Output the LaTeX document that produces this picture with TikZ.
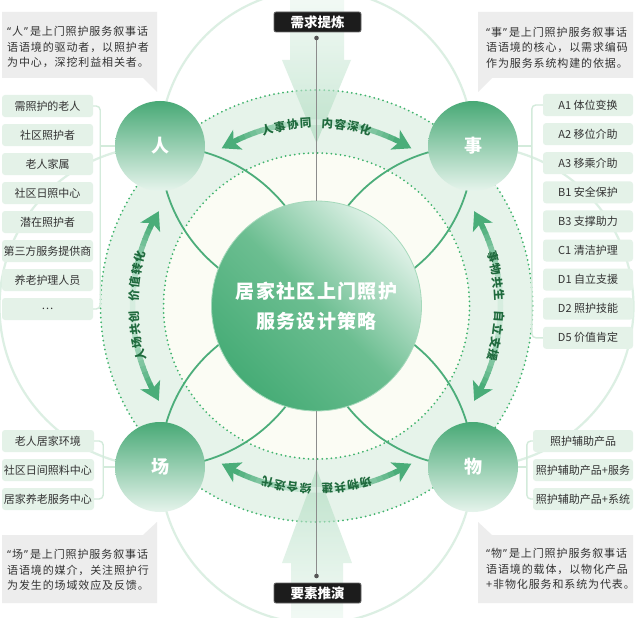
\documentclass[tikz,border=0pt]{standalone}
\usepackage{fontspec}
\setmainfont{Noto Sans CJK SC}
\newfontfamily\cjkls[LetterSpace=8]{Noto Sans CJK SC}
\newfontfamily\cjkwide[LetterSpace=7]{Noto Sans CJK SC}
\newfontfamily\qfont{Noto Sans}
\newcommand\myquote[1]{{\qfont “}\kern1pt #1\kern1pt{\qfont ”}\kern2pt}
\usetikzlibrary{arrows.meta}
\definecolor{annulus}{HTML}{E6F3EA}
\definecolor{cream}{HTML}{FBFCF4}
\definecolor{dotc}{HTML}{3FB36C}
\definecolor{faint}{HTML}{DCEFE3}
\definecolor{darkl}{HTML}{4CAD7A}
\definecolor{satTop}{HTML}{48A976}
\definecolor{satBot}{HTML}{E6F4EC}
\definecolor{ctrDark}{HTML}{46AC76}
\definecolor{ctrMid}{HTML}{6CBE91}
\definecolor{ctrLight}{HTML}{E0F2E8}
\definecolor{ctrEdge}{HTML}{A5D9BB}
\definecolor{itemfill}{HTML}{E4F2E8}
\definecolor{linkc}{HTML}{D3EBDB}
\definecolor{callfill}{HTML}{EDEDED}
\definecolor{txt}{HTML}{333333}
\definecolor{arrDark}{HTML}{4AAD79}
\definecolor{arrLight}{HTML}{D6EDDF}
\definecolor{arctxt}{HTML}{1F6A3D}
\definecolor{bigArrTop}{HTML}{E9F6EE}
\definecolor{bigArrBot}{HTML}{A6D8B9}
\definecolor{tagfill}{HTML}{1C1C1C}
\definecolor{tagdraw}{HTML}{666666}
\definecolor{vgray}{HTML}{8C8C8C}
\definecolor{dotcol}{HTML}{555555}
\begin{document}
\begin{tikzpicture}[x=1pt,y=-1pt,
  listitem/.style={fill=itemfill, rounded corners=3pt, minimum height=22pt, inner sep=0pt, text=txt, font=\fontsize{11}{12}\selectfont},
  sat/.style={circle, minimum size=90pt, inner sep=0pt, top color=satTop, bottom color=satBot, text=white, font=\fontsize{18}{18}\selectfont\bfseries},
  link/.style={linkc, line width=1.8pt},
  brk/.style={linkc, line width=1.4pt, rounded corners=4pt},
  calloutbg/.style={fill=callfill},
  calltext/.style={anchor=west, align=left, text=txt, inner sep=0pt, font=\cjkls\fontsize{11}{15.5}\selectfont},
  tagbox/.style={fill=tagfill, draw=tagdraw, line width=0.8pt, rounded corners=2pt, minimum width=87pt, minimum height=20pt, inner sep=0pt, text=white, font=\fontsize{13.5}{14}\selectfont\bfseries},
  faintc/.style={faint, line width=2.2pt},
  darkc/.style={darkl, line width=1.8pt},
  dotring/.style={dotc, line width=2pt, line cap=round, dash pattern=on 0pt off 4.6pt},
  vline/.style={vgray, line width=1.1pt},
  arct/.style={text=arctxt, inner sep=0pt, font=\fontsize{11.5}{11.5}\selectfont\bfseries},
  bigarrow/.style={top color=bigArrTop, bottom color=bigArrBot, fill opacity=0.6, draw=none}
]
\useasboundingbox (0,0) rectangle (635,618);
\fill[white] (0,0) rectangle (635,618);

% faint big circles
\draw[faintc] (316.5,146) circle[radius=156.5];
\draw[faintc] (316.5,467) circle[radius=156.5];
\draw[faintc] (160,306.5) circle[radius=160.5];
\draw[faintc] (473,306.5) circle[radius=160.5];

% rings
\fill[annulus] (316.5,306) circle[radius=216];
\fill[cream] (316.5,306) circle[radius=153];
\begin{scope}
  \clip (316.5,306) circle[radius=216];
  \draw[darkc] (316.5,146) circle[radius=156.5];
  \draw[darkc] (316.5,467) circle[radius=156.5];
  \draw[darkc] (160,306.5) circle[radius=160.5];
  \draw[darkc] (473,306.5) circle[radius=160.5];
\end{scope}
\draw[dotring] (316.5,306) circle[radius=216];
\draw[dotring] (316.5,306) circle[radius=153];

% big vertical arrows
\shade[bigarrow] (290,0) -- (344,0) -- (344,60) -- (351,60) -- (316.5,143) -- (282,60) -- (290,60) -- cycle;
\shade[bigarrow, top color=bigArrBot, bottom color=bigArrTop] (291,618) -- (343,618) -- (343,563) -- (352,563) -- (316.5,469) -- (282,563) -- (291,563) -- cycle;

% curved double arrows and texts
\begin{scope}[shift={(316.5,306)}]
  \foreach \cA in {90,0,270,180}{
    \foreach \sA in {1,-1}{
      \foreach \i in {0,...,13}{
        \pgfmathsetmacro\aA{\cA+\sA*\i*26.8/14}
        \pgfmathsetmacro\aB{\cA+\sA*(\i+1.15)*26.8/14}
        \pgfmathtruncatemacro\pp{100*(\i/13)^1.3}
        \draw[line width=5.5pt, arrDark!\pp!arrLight] (\aA:184pt) arc[start angle=\aA, end angle=\aB, radius=184pt];
      }
      \pgfmathsetmacro\tipA{\cA+\sA*31}
      \pgfmathsetmacro\bseA{\cA+\sA*25.3}
      \pgfmathsetmacro\nchA{\cA+\sA*26.8}
      \fill[arrDark] (\tipA:184pt) -- (\bseA:195pt) -- (\nchA:184pt) -- (\bseA:173pt) -- cycle;
    }
  }
  \foreach \k/\ch in {0/人,1/事,2/协,3/同,4.7/内,5.7/容,6.7/深,7.7/化}{
    \pgfmathsetmacro\angA{90+(3.85-\k)*4.05}
    \pgfmathsetmacro\rotA{\angA-90}
    \node[arct, rotate=\rotA] (tt\k) at (\angA:183pt) {\ch};
  }
  \foreach \k/\ch in {0/事,1/物,2/共,3/生,4.7/自,5.7/立,6.7/支,7.7/援}{
    \pgfmathsetmacro\angA{0+(3.85-\k)*4.05}
    \pgfmathsetmacro\rotA{\angA-90}
    \node[arct, rotate=\rotA] (tr\k) at (\angA:183pt) {\ch};
  }
  \foreach \k/\ch in {0/场,1/物,2/共,3/建,4.7/综,5.7/合,6.7/迭,7.7/代}{
    \pgfmathsetmacro\angA{270+(3.85-\k)*4.05}
    \pgfmathsetmacro\rotA{\angA-90}
    \node[arct, rotate=\rotA] (tb\k) at (\angA:183pt) {\ch};
  }
  \foreach \k/\ch in {0/人,1/场,2/共,3/创,4.7/价,5.7/值,6.7/转,7.7/化}{
    \pgfmathsetmacro\angA{180+(3.85-\k)*4.05}
    \pgfmathsetmacro\rotA{\angA-90}
    \node[arct, rotate=\rotA] (tl\k) at (\angA:183pt) {\ch};
  }
\end{scope}

% center circle
\node[circle, minimum size=210pt, inner sep=0pt, draw=ctrEdge, line width=0.8pt,
      top color=ctrLight, bottom color=ctrDark, middle color=ctrMid, shading angle=-45,
      text=white, align=center, font=\cjkwide\fontsize{19}{30}\selectfont\bfseries]
      (ctr) at (316.5,306) {居家社区上门照护\\服务设计策略};

% vertical lines with dots
\coordinate (dtop) at (316.5,38);
\coordinate (dbot) at (316.5,576);
\draw[vline] (dtop) -- (ctr.north);
\draw[vline] (ctr.south) -- (dbot);
\fill[dotcol] (dtop) circle[radius=2.3];
\fill[dotcol] (dbot) circle[radius=2.3];

% list items
\foreach \t [count=\n from 0] in {需照护的老人,社区照护者,老人家属,社区日照中心,潜在照护者,第三方服务提供商,养老护理人员,…}{
  \node[listitem, minimum width=91pt] (L\n) at (47.5,{106+29*\n}) {\t};
}
\foreach \t [count=\n from 0] in {A1 体位变换,A2 移位介助,A3 移乘介助,B1 安全保护,B3 支撑助力,C1 清洁护理,D1 自立支援,D2 照护技能,D5 价值肯定}{
  \node[listitem, minimum width=90pt] (R\n) at (588,{105+29.1*\n}) {\t};
}
\foreach \t [count=\n from 0] in {老人居家环境,社区日间照料中心,居家养老服务中心}{
  \node[listitem, minimum width=92pt] (B\n) at (48,{441+29*\n}) {\t};
}
\foreach \t [count=\n from 0] in {照护辅助产品,照护辅助产品+服务,照护辅助产品+系统}{
  \node[listitem, minimum width=100pt] (W\n) at (583,{441+29*\n}) {\t};
}

% satellites
\node[sat] (ren) at (160,146) {人};
\node[sat] (shi) at (473,146) {事};
\node[sat] (chang) at (160,467) {场};
\node[sat] (wu) at (473,467) {物};

% brackets and links
\draw[brk] (L0.east) -- ++(7,0) |- (L7.east);
\draw[link] (ren.west) -- ([xshift=-15pt]ren.west);
\draw[brk] (R0.west) -- ++(-11,0) |- (R8.west);
\draw[link] (shi.east) -- ([xshift=14pt]shi.east);
\draw[brk] (B0.east) -- ++(9,0) |- (B2.east);
\draw[link] (chang.west) -- ([xshift=-12pt]chang.west);
\draw[brk] (W0.west) -- ++(-6,0) |- (W2.west);
\draw[link] (wu.east) -- ([xshift=9pt]wu.east);

% callouts
\fill[calloutbg] (2,12) -- (157,12) -- (157,92) -- (143,78) -- (2,78) -- cycle;
\node[calltext] (c1) at (7,47) {\myquote{人}是上门照护服务叙事话\\语语境的驱动者，以照护者\\为中心，深挖利益相关者。};
\fill[calloutbg] (478,12) -- (633,12) -- (633,78) -- (492,78) -- (478,92) -- cycle;
\node[calltext] (c2) at (486,47.5) {\myquote{事}是上门照护服务叙事话\\语语境的核心，以需求编码\\作为服务系统构建的依据。};
\fill[calloutbg] (2,535) -- (143,535) -- (157,522) -- (157,603) -- (2,603) -- cycle;
\node[calltext] (c3) at (7,570) {\myquote{场}是上门照护服务叙事话\\语语境的媒介，关注照护行\\为发生的场域效应及反馈。};
\fill[calloutbg] (478,522) -- (492,535) -- (633,535) -- (633,603) -- (478,603) -- cycle;
\node[calltext] (c4) at (486,569) {\myquote{物}是上门照护服务叙事话\\语语境的载体，以物化产品\\+非物化服务和系统为代表。};

% tags
\node[tagbox] (need) at (317.5,22) {需求提炼};
\node[tagbox] (elem) at (317.5,593) {要素推演};
\end{tikzpicture}
\end{document}
